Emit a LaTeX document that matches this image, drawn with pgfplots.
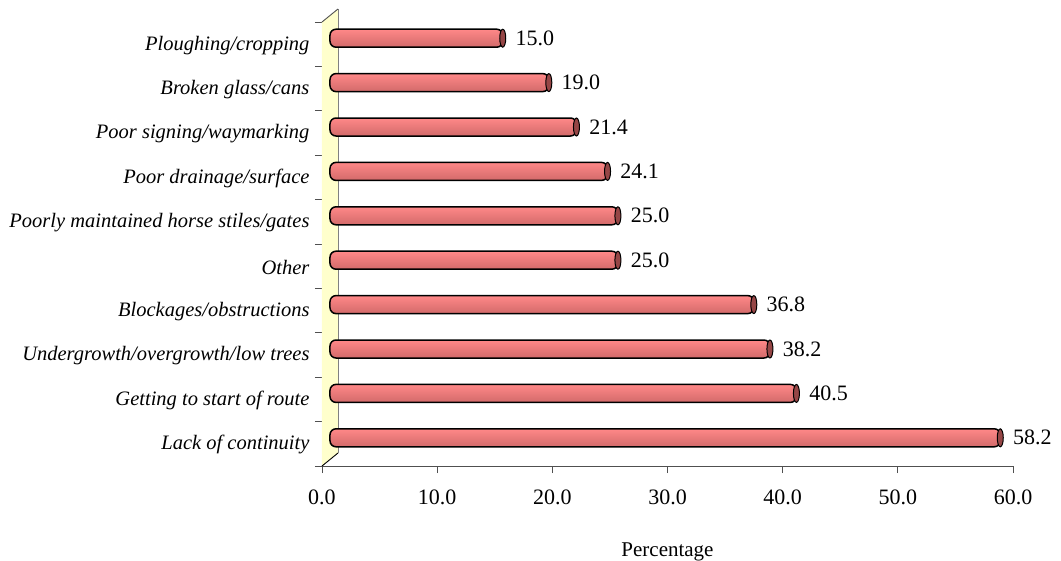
\documentclass[border=0pt]{standalone}
\usepackage{pgfplots}
\pgfplotsset{compat=1.18}
\usepackage{fontspec}
\setmainfont{Liberation Serif}

\definecolor{barhi}{RGB}{255,136,136}
\definecolor{barlo}{RGB}{210,106,106}
\definecolor{capfill}{RGB}{150,70,70}
\definecolor{wallfill}{RGB}{255,255,204}
\definecolor{axisgray}{RGB}{80,80,80}

% elliptical end face of each cylinder
\pgfdeclareplotmark{cylcap}{%
  \pgfpathellipse{\pgfpointorigin}{\pgfqpoint{3pt}{0pt}}{\pgfqpoint{0pt}{9pt}}%
  \pgfusepathqfillstroke}

\pgfplotsset{
  cyl/.style={
    xbar, bar width=18pt, bar shift=0pt,
    draw=black, line width=1.5pt, rounded corners=6pt,
    top color=barhi, bottom color=barlo,
    xshift=8pt, yshift=6pt,
    mark=cylcap,
    mark options={fill=capfill, draw=black, line width=1pt, rounded corners=0pt},
    nodes near coords,
    point meta=explicit symbolic,
    nodes near coords style={anchor=west, xshift=9pt, text=black,
      font=\fontsize{22}{26}\selectfont},
  },
}

\begin{document}
\begin{tikzpicture}
\begin{axis}[
  scale only axis, width=691pt, height=444pt,
  xmin=0, xmax=60, ymin=0.5, ymax=10.5,
  clip=false,
  axis x line=bottom, axis y line=left,
  axis line style={-, draw=axisgray, line width=0.9pt},
  xtick={0,10,...,60},
  /pgf/number format/fixed, /pgf/number format/fixed zerofill,
  /pgf/number format/precision=1, /pgf/number format/assume math mode=true,
  tick align=outside, major tick length=7pt,
  tick style={draw=axisgray, line width=0.9pt},
  xticklabel style={font=\fontsize{22}{26}\selectfont, yshift=-13pt},
  ytick={0.5,1.5,...,10.5}, yticklabels={},
  extra y ticks={1,...,10},
  extra y tick labels={Lack of continuity, Getting to start of route,
    Undergrowth/overgrowth/low trees, Blockages/obstructions, Other,
    Poorly maintained horse stiles/gates, Poor drainage/surface,
    Poor signing/waymarking, Broken glass/cans, Ploughing/cropping},
  extra y tick style={major tick length=0pt,
    yticklabel style={font=\fontsize{20.5}{24}\selectfont\itshape, xshift=-9pt, yshift=-1pt}},
  xlabel={Percentage},
  xlabel style={font=\fontsize{21}{25}\selectfont, yshift=-31pt},
]
% back wall
\path (axis cs:0,0.5) coordinate (wb) (axis cs:0,10.5) coordinate (wt);
\fill[wallfill] (wb) -- (wt) -- ([shift={(16pt,13pt)}]wt) -- ([shift={(16pt,13pt)}]wb) -- cycle;
\draw[gray, line width=0.7pt] ([shift={(16pt,13pt)}]wt) -- ([shift={(16pt,13pt)}]wb);
\draw[axisgray, line width=0.9pt] (wt) -- ([shift={(16pt,13pt)}]wt);
\draw[black, line width=0.9pt] (wb) -- ([shift={(16pt,13pt)}]wb);

\addplot[cyl] coordinates {(58.2,1) [58.2]};
\addplot[cyl] coordinates {(40.5,2) [40.5]};
\addplot[cyl] coordinates {(38.2,3) [38.2]};
\addplot[cyl] coordinates {(36.8,4) [36.8]};
\addplot[cyl] coordinates {(25.0,5) [25.0]};
\addplot[cyl] coordinates {(25.0,6) [25.0]};
\addplot[cyl] coordinates {(24.1,7) [24.1]};
\addplot[cyl] coordinates {(21.4,8) [21.4]};
\addplot[cyl] coordinates {(19.0,9) [19.0]};
\addplot[cyl] coordinates {(15.0,10) [15.0]};

\coordinate (O) at (rel axis cs:0,0);
\coordinate (T) at (rel axis cs:1,1);
\end{axis}
\pgfresetboundingbox
\path[use as bounding box] ([shift={(-322pt,-94pt)}]O) rectangle ([shift={(48pt,22pt)}]T);
\end{tikzpicture}
\end{document}
